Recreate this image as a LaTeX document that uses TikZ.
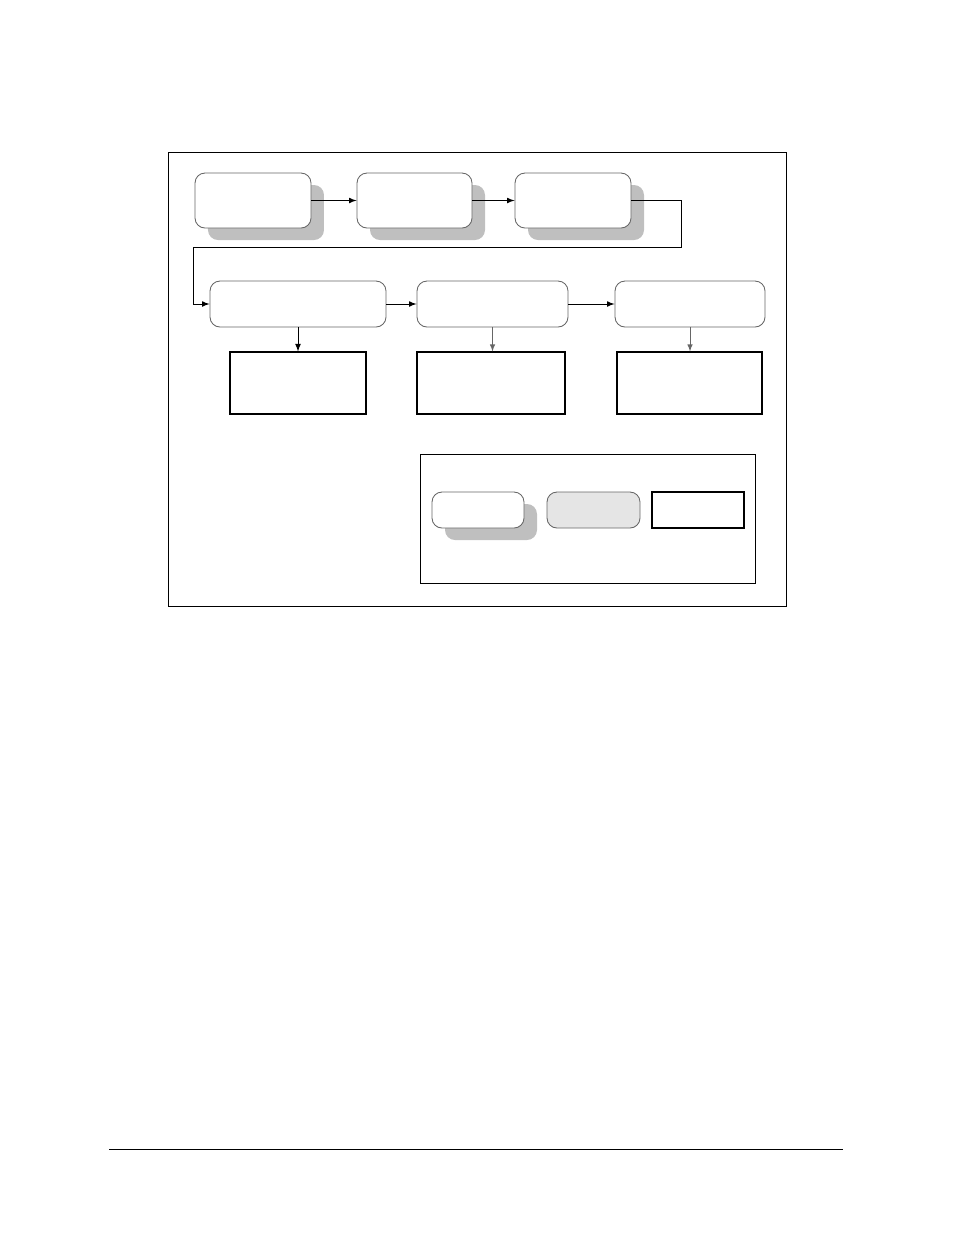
\documentclass[tikz,border=0pt]{standalone}
\usetikzlibrary{shapes,arrows,positioning,shadows}

\tikzset{
    sz/.style 2 args={minimum width=#1*0.02cm, minimum height=#2*0.02cm},
    roundbox/.style={draw=black!60, line width=0.5pt, rounded corners=0.2cm, fill=white, inner sep=0pt},
    shadowbox/.style={roundbox, drop shadow={shadow xshift=0.26cm, shadow yshift=-0.24cm, fill=black!25, opacity=1}},
    greybox/.style={roundbox, fill=black!10},
    plainbox/.style={draw=black, line width=0.6pt, fill=white, inner sep=0pt},
    flow/.style={-latex, line width=0.5pt},
    thinflow/.style={-latex, line width=0.4pt, draw=black!60}
}

\begin{document}
\begin{tikzpicture}[x=0.02cm, y=-0.02cm]
        \useasboundingbox (0,0) rectangle (954,1235);

        % outer frame
        \node[draw, line width=0.5pt, inner sep=0pt, sz={618}{454}] (frame) at (477,379) {};

        % first row
        \node[shadowbox, sz={116}{55}] (stageA) at (253,200.5) {};
        \node[shadowbox, sz={115}{55}] (stageB) at (414.5,200.5) {};
        \node[shadowbox, sz={116}{55}] (stageC) at (573,200.5) {};
        \draw[flow] (stageA) -- (stageB);
        \draw[flow] (stageB) -- (stageC);

        % second row
        \node[roundbox, sz={176}{46}] (stageD) at (298,304) {};
        \node[roundbox, sz={151}{46}] (stageE) at (492.5,304) {};
        \node[roundbox, sz={150}{46}] (stageF) at (690,304) {};
        \draw[flow] (stageD) -- (stageE);
        \draw[flow] (stageE) -- (stageF);

        % wrap from first row to second row
        \coordinate (turnA) at (681,247);
        \coordinate (turnB) at (193,247);
        \draw[flow] (stageC.east) -| (turnA) -- (turnB) |- (stageD.west);

        % outputs
        \node[plainbox, sz={136}{62}] (outD) at (298,383) {};
        \node[plainbox, sz={148}{62}] (outE) at (491,383) {};
        \node[plainbox, sz={145}{62}] (outF) at (689.5,383) {};
        \draw[flow] (stageD.south) -- (outD.north);
        \draw[thinflow] (stageE.south) -- (stageE.south |- outE.north);
        \draw[thinflow] (stageF.south) -- (stageF.south |- outF.north);

        % legend
        \node[draw, line width=0.5pt, inner sep=0pt, sz={335}{129}] (legend) at (587.5,518.5) {};
        \node[shadowbox, sz={92}{36}] (keyA) at (478,510) {};
        \node[greybox, sz={93}{36}] (keyB) at (593.5,510) {};
        \node[plainbox, sz={92}{36}] (keyC) at (698,510) {};

        % footer rule
        \draw[line width=0.5pt] (109,1149) -- (843,1149);
    \end{tikzpicture}
\end{document}
